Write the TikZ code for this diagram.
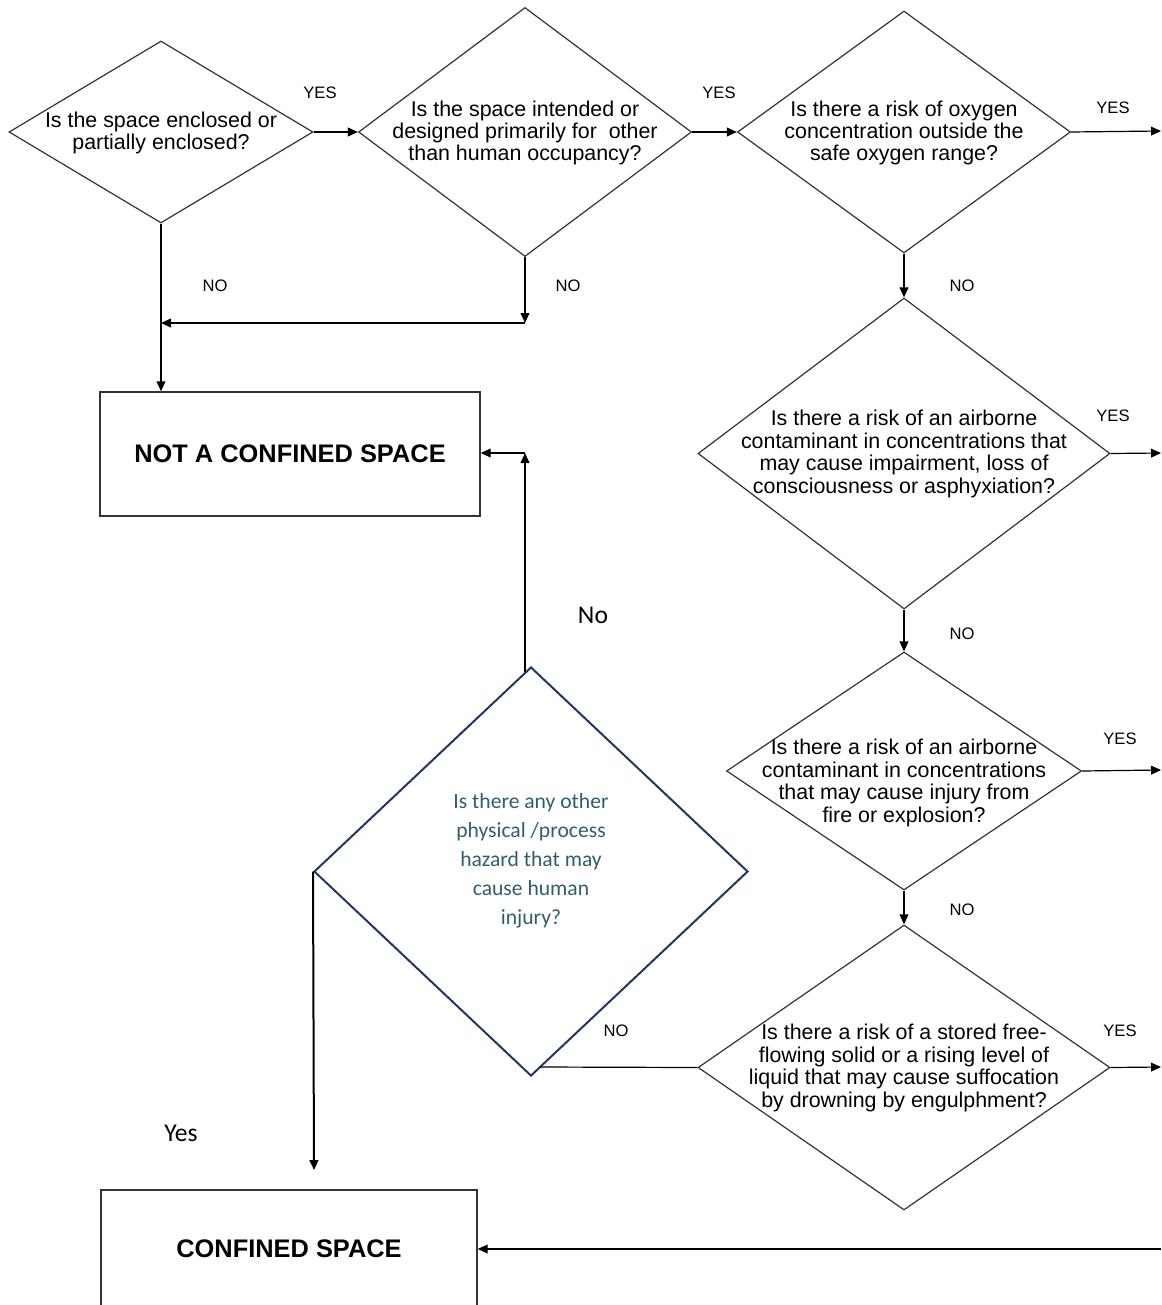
\documentclass[tikz,border=0pt]{standalone}
\usepackage{fontspec}
\setmainfont{Liberation Sans}
\newfontfamily\carlito{Carlito}
\usepackage{tikz}
\usetikzlibrary{
    positioning,
    arrows.meta,
    shapes.geometric
}
\definecolor{lineGray}{RGB}{51, 51, 51}
\definecolor{hazBlue}{RGB}{31, 56, 96}
\definecolor{hazTeal}{RGB}{47, 94, 110}

\begin{document}
\begin{tikzpicture}[x=0.5pt, y=-0.5pt, >={Triangle[length=5pt, width=4.4pt]},
    ask/.style 2 args={diamond, draw=lineGray, line width=0.6pt, inner sep=0pt,
        minimum width=#1*0.5pt, minimum height=#2*0.5pt},
    asktext/.style={align=center, inner sep=0pt, font=\fontsize{10.7}{11.2}\selectfont},
    endbox/.style={rectangle, draw=lineGray, line width=0.7pt,
        font=\bfseries\fontsize{12.7}{15}\selectfont},
    ans/.style={font=\fontsize{8.3}{10}\selectfont},
    talk/.style={font=\carlito\fontsize{12.8}{15}\selectfont},
    flow/.style={->, line width=0.6pt}]
        \clip (0,0) rectangle (1161,1305);

        % questions
        \node[ask={304}{182}] (d1) at (161,132) {};
        \node[asktext] (q1) at (161,133) {Is the space enclosed or\\partially enclosed?};
        \node[ask={333}{249}] (d2) at (525,132) {};
        \node[asktext] (q2) at (525,133) {Is the space intended or\\designed primarily for\ \ other\\than human occupancy?};
        \node[ask={333}{242}] (d3) at (904,132) {};
        \node[asktext] (q3) at (904,133) {Is there a risk of oxygen\\concentration outside the\\safe oxygen range?};
        \node[ask={412}{311}] (d4) at (904,453.5) {};
        \node[asktext] (q4) at (904,454) {Is there a risk of an airborne\\contaminant in concentrations that\\may cause impairment, loss of\\consciousness or asphyxiation?};
        \node[ask={355}{238}] (d5) at (904,771) {};
        \node[asktext] (q5) at (904,783) {Is there a risk of an airborne\\contaminant in concentrations\\that may cause injury from\\fire or explosion?};
        \node[ask={412}{285}] (d6) at (904,1067.5) {};
        \node[asktext] (q6) at (904,1068) {Is there a risk of a stored free-\\flowing solid or a rising level of\\liquid that may cause suffocation\\by drowning by engulphment?};
        \node[ask={434}{409}, draw=hazBlue, line width=1pt] (d7) at (531,871.5) {};
        \node[asktext, text=hazTeal, font=\carlito\fontsize{10.8}{14.5}\selectfont] (q7) at (531,861)
            {Is there any other\\physical /process\\hazard that may\\cause human\\injury?};

        % outcomes
        \node[endbox, minimum width=190pt, minimum height=62pt] (ncs) at (290,454) {NOT A CONFINED SPACE};
        \node[endbox, minimum width=188pt, minimum height=59pt] (cs) at (289,1249) {CONFINED SPACE};

        % free ends
        \coordinate (x3) at (1161,131);
        \coordinate (x4) at (1161,453);
        \coordinate (x5) at (1161,770);
        \coordinate (x6) at (1161,1067);
        \coordinate (x8) at (1161,1249);
        \coordinate (j2) at (525,323);
        \coordinate (m6) at (540,1067);
        \coordinate (k0) at (525,672);
        \coordinate (k1) at (525,453);
        \coordinate (y7) at (314,1170);

        % connectors
        \draw[flow] (d1.east) -- (d2.west);
        \draw[flow] (d2.east) -- (d3.west);
        \draw[flow] (d3.east) -- (x3);
        \draw[flow] (d1.south) -- (ncs.north -| d1.south);
        \draw[flow] (d2.south) -- (j2);
        \draw[flow] (j2) -- (j2 -| d1.south);
        \draw[flow] (d3.south) -- (d4.north);
        \draw[flow] (d4.east) -- (x4);
        \draw[flow] (d4.south) -- (d5.north);
        \draw[flow] (d5.east) -- (x5);
        \draw[flow] (d5.south) -- (d6.north);
        \draw[flow] (d6.east) -- (x6);
        \draw[line width=0.6pt] (d6.west) -- (m6);
        \draw[flow] (k0) -- (k1);
        \draw[flow] (k1) -- (k1 -| ncs.east);
        \draw[flow, line width=1pt] (d7.west) -- (y7);
        \draw[flow] (x8) -- (x8 -| cs.east);

        % answers
        \node[ans] (a1) at (320,93) {YES};
        \node[ans] (a2) at (719,93) {YES};
        \node[ans] (a3) at (1113,108) {YES};
        \node[ans] (a4) at (1113,416) {YES};
        \node[ans] (a5) at (1120,739) {YES};
        \node[ans] (a6) at (1120,1031) {YES};
        \node[ans] (b1) at (215,286) {NO};
        \node[ans] (b2) at (568,286) {NO};
        \node[ans] (b3) at (962,286) {NO};
        \node[ans] (b4) at (962,634) {NO};
        \node[ans] (b5) at (962,910) {NO};
        \node[ans] (b6) at (616,1031) {NO};
        \node[talk] (b7) at (593,615) {No};
        \node[talk] (a7) at (181,1133) {Yes};
    \end{tikzpicture}
\end{document}
